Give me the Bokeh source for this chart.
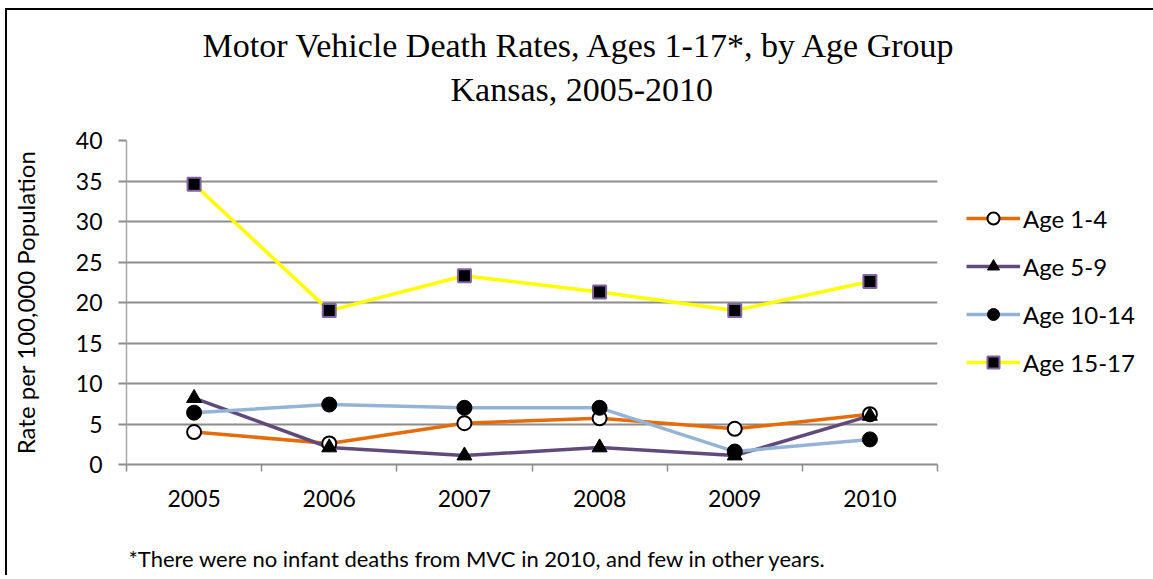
from bokeh.plotting import figure
from bokeh.models import Range1d, FixedTicker, Legend, Title
from bokeh.embed import file_html
from bokeh.resources import INLINE

years = ["2005", "2006", "2007", "2008", "2009", "2010"]
age_1_4 = [4.0, 2.6, 5.1, 5.7, 4.4, 6.2]
age_5_9 = [8.2, 2.1, 1.1, 2.1, 1.1, 6.0]
age_10_14 = [6.4, 7.4, 7.0, 7.0, 1.6, 3.1]
age_15_17 = [34.6, 19.0, 23.3, 21.3, 19.0, 22.6]
y_ticks = [0, 5, 10, 15, 20, 25, 30, 35, 40]

xs = [i + 0.5 for i in range(len(years))]

SANS = "Lato"
SERIF = "Liberation Serif"
FS = "23px"

p = figure(frame_width=811, frame_height=324, output_backend="svg", toolbar_location=None,
           x_range=Range1d(0, len(years)), y_range=Range1d(0, 40),
           min_border_left=119, min_border_right=206, min_border_top=130,
           min_border_bottom=111)
p.styles = {"margin-left": "5px", "margin-top": "8px",
            "border-left": "2px solid black", "border-top": "2px solid black",
            "border-right": "2px solid black"}
p.outline_line_color = None
p.background_fill_color = "white"
p.border_fill_color = "white"


def spacer(gap):
    """A blank title that only reserves vertical space."""
    return Title(text=" ", text_font_size="2px", standoff=gap)


# x axis
p.xaxis.ticker = FixedTicker(ticks=xs, minor_ticks=list(range(len(years) + 1)))
p.xaxis.major_label_overrides = {x: y for x, y in zip(xs, years)}
p.xaxis.major_tick_out = 0
p.xaxis.major_tick_in = 0
p.xaxis.minor_tick_out = 7
p.xaxis.minor_tick_in = 0
p.xaxis.minor_tick_line_color = "#8c8c8c"
p.xaxis.minor_tick_line_width = 1.5
p.xaxis.axis_line_color = "#8c8c8c"
p.xaxis.axis_line_width = 2
p.xaxis.major_label_text_font = SANS
p.xaxis.major_label_text_font_size = FS
p.xaxis.major_label_text_color = "black"
p.xaxis.major_label_standoff = 18
p.xgrid.grid_line_color = None

# y axis
p.yaxis.ticker = FixedTicker(ticks=y_ticks, minor_ticks=[])
p.yaxis.major_tick_out = 8
p.yaxis.major_tick_in = 0
p.yaxis.major_tick_line_color = "#8c8c8c"
p.yaxis.major_tick_line_width = 2
p.yaxis.axis_line_color = "#a6a6a6"
p.yaxis.axis_line_width = 1.5
p.yaxis.major_label_text_font = SANS
p.yaxis.major_label_text_font_size = FS
p.yaxis.major_label_text_color = "black"
p.yaxis.major_label_standoff = 16
p.yaxis.axis_label = "Rate per 100,000 Population"
p.yaxis.axis_label_text_font = SANS
p.yaxis.axis_label_text_font_size = "24px"
p.yaxis.axis_label_text_font_style = "normal"
p.yaxis.axis_label_text_color = "black"
p.yaxis.axis_label_standoff = 33
p.ygrid.grid_line_color = "#8c8c8c"
p.ygrid.grid_line_width = 2

series = [
    ("Age 1-4", age_1_4, "#E46C0A", "circle", "white", "black", 14, 2),
    ("Age 5-9", age_5_9, "#604A7B", "triangle", "black", "black", 15, 1),
    ("Age 10-14", age_10_14, "#95B3D7", "circle", "black", "black", 15, 1),
    ("Age 15-17", age_15_17, "#FFFF00", "square", "black", "#8064A2", 13, 2),
]

items = []
line_rs = []
for label, vals, color, *_ in series:
    r = p.line(xs, vals, line_color=color, line_width=3.5)
    line_rs.append(r)
for (label, vals, color, marker, fill, outline, size, lw), lr in zip(series, line_rs):
    m = p.scatter(xs, vals, marker=marker, size=size, fill_color=fill,
                  line_color=outline, line_width=lw)
    items.append((label, [lr, m]))

legend = Legend(items=items, location=(29, 87), orientation="vertical")
legend.glyph_width = 54
legend.glyph_height = 30
legend.label_height = 30
legend.spacing = 18
legend.label_standoff = 3
legend.padding = 0
legend.margin = 0
legend.border_line_color = None
legend.background_fill_alpha = 0
legend.label_text_font = SANS
legend.label_text_font_size = "24px"
legend.label_text_color = "black"
p.add_layout(legend, "right")

# titles (above) -- first added sits nearest the plot
p.add_layout(spacer(29), "above")
p.add_layout(Title(text="Kansas, 2005-2010", align="left", offset=324,
                   text_font=SERIF, text_font_size="34px", text_font_style="normal",
                   text_color="black", standoff=0), "above")
p.add_layout(Title(text="Motor Vehicle Death Rates, Ages 1-17*, by Age Group",
                   align="left", offset=76,
                   text_font=SERIF, text_font_size="34px", text_font_style="normal",
                   text_color="black", standoff=10), "above")

# footnote below the x axis
p.add_layout(spacer(29), "below")
p.add_layout(Title(text="*There were no infant deaths from MVC in 2010, and few in other years.",
                   align="left", offset=2,
                   text_font=SANS, text_font_size="22px", text_font_style="normal",
                   text_color="black", standoff=0), "below")

open("out.html", "w").write(file_html(p, INLINE))
